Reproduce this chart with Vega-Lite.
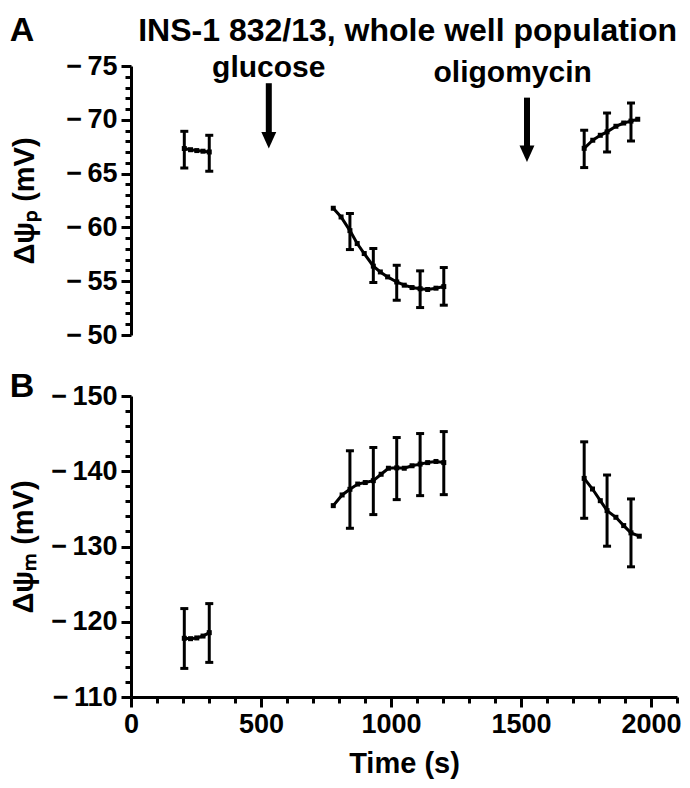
{
  "$schema": "https://vega.github.io/schema/vega-lite/v6.json",
  "background": "white",
  "padding": {"left": 9, "top": 14, "right": 8, "bottom": 4},
  "config": {
    "font": "Liberation Sans",
    "view": {"stroke": null},
    "axis": {
      "labelFont": "Liberation Sans", "labelFontWeight": "bold", "labelFontSize": 27, "labelColor": "black", "labelOverlap": false,
      "titleFont": "Liberation Sans", "titleFontWeight": "bold", "titleFontSize": 29, "titleColor": "black",
      "domainColor": "black", "domainWidth": 3, "tickColor": "black", "tickWidth": 3, "grid": false
    },
    "title": {"font": "Liberation Sans", "fontWeight": "bold", "color": "black"}
  },
  "title": {"text": "A", "anchor": "start", "frame": "bounds", "fontSize": 34, "dy": 37},
  "datasets": {
    "lines": [
      {"p": "A", "s": 1, "t": 205, "v": -67.33}, {"p": "A", "s": 1, "t": 229, "v": -67.22}, {"p": "A", "s": 1, "t": 253, "v": -67.14}, {"p": "A", "s": 1, "t": 277, "v": -67.08}, {"p": "A", "s": 1, "t": 301, "v": -67.01},
      {"p": "A", "s": 2, "t": 778, "v": -61.78}, {"p": "A", "s": 2, "t": 808, "v": -60.97}, {"p": "A", "s": 2, "t": 842, "v": -59.7}, {"p": "A", "s": 2, "t": 870, "v": -58.5}, {"p": "A", "s": 2, "t": 897, "v": -57.57}, {"p": "A", "s": 2, "t": 932, "v": -56.4}, {"p": "A", "s": 2, "t": 959, "v": -55.86}, {"p": "A", "s": 2, "t": 987, "v": -55.4}, {"p": "A", "s": 2, "t": 1022, "v": -54.93}, {"p": "A", "s": 2, "t": 1051, "v": -54.63}, {"p": "A", "s": 2, "t": 1081, "v": -54.41}, {"p": "A", "s": 2, "t": 1112, "v": -54.3}, {"p": "A", "s": 2, "t": 1141, "v": -54.23}, {"p": "A", "s": 2, "t": 1173, "v": -54.35}, {"p": "A", "s": 2, "t": 1203, "v": -54.5},
      {"p": "A", "s": 3, "t": 1743, "v": -67.35}, {"p": "A", "s": 3, "t": 1776, "v": -68.1}, {"p": "A", "s": 3, "t": 1805, "v": -68.56}, {"p": "A", "s": 3, "t": 1831, "v": -68.88}, {"p": "A", "s": 3, "t": 1865, "v": -69.4}, {"p": "A", "s": 3, "t": 1895, "v": -69.7}, {"p": "A", "s": 3, "t": 1923, "v": -69.88}, {"p": "A", "s": 3, "t": 1949, "v": -70.05},
      {"p": "B", "s": 1, "t": 205, "v": -117.8}, {"p": "B", "s": 1, "t": 229, "v": -117.75}, {"p": "B", "s": 1, "t": 253, "v": -117.85}, {"p": "B", "s": 1, "t": 277, "v": -118.1}, {"p": "B", "s": 1, "t": 301, "v": -118.55},
      {"p": "B", "s": 2, "t": 778, "v": -135.43}, {"p": "B", "s": 2, "t": 812, "v": -136.85}, {"p": "B", "s": 2, "t": 842, "v": -137.6}, {"p": "B", "s": 2, "t": 872, "v": -138.3}, {"p": "B", "s": 2, "t": 901, "v": -138.5}, {"p": "B", "s": 2, "t": 932, "v": -138.75}, {"p": "B", "s": 2, "t": 962, "v": -139.6}, {"p": "B", "s": 2, "t": 990, "v": -140.4}, {"p": "B", "s": 2, "t": 1022, "v": -140.45}, {"p": "B", "s": 2, "t": 1051, "v": -140.4}, {"p": "B", "s": 2, "t": 1081, "v": -140.73}, {"p": "B", "s": 2, "t": 1112, "v": -140.95}, {"p": "B", "s": 2, "t": 1141, "v": -141.15}, {"p": "B", "s": 2, "t": 1173, "v": -141.3}, {"p": "B", "s": 2, "t": 1203, "v": -141.15},
      {"p": "B", "s": 3, "t": 1743, "v": -139.05}, {"p": "B", "s": 3, "t": 1775, "v": -137.64}, {"p": "B", "s": 3, "t": 1805, "v": -136.09}, {"p": "B", "s": 3, "t": 1831, "v": -134.77}, {"p": "B", "s": 3, "t": 1865, "v": -133.88}, {"p": "B", "s": 3, "t": 1895, "v": -132.78}, {"p": "B", "s": 3, "t": 1923, "v": -131.81}, {"p": "B", "s": 3, "t": 1955, "v": -131.37}
    ],
    "errs": [
      {"p": "A", "t": 205, "lo": -68.93, "hi": -65.52}, {"p": "A", "t": 301, "lo": -68.56, "hi": -65.22},
      {"p": "A", "t": 842, "lo": -61.29, "hi": -57.94}, {"p": "A", "t": 932, "lo": -58.04, "hi": -54.88}, {"p": "A", "t": 1022, "lo": -56.48, "hi": -53.23}, {"p": "A", "t": 1112, "lo": -55.96, "hi": -52.55}, {"p": "A", "t": 1203, "lo": -56.27, "hi": -52.77},
      {"p": "A", "t": 1743, "lo": -69.03, "hi": -65.56}, {"p": "A", "t": 1831, "lo": -70.63, "hi": -67.01}, {"p": "A", "t": 1923, "lo": -71.56, "hi": -68.03},
      {"p": "B", "t": 205, "lo": -121.75, "hi": -113.8}, {"p": "B", "t": 301, "lo": -122.41, "hi": -114.6},
      {"p": "B", "t": 842, "lo": -142.72, "hi": -132.42}, {"p": "B", "t": 932, "lo": -143.16, "hi": -134.24}, {"p": "B", "t": 1022, "lo": -144.48, "hi": -136.23}, {"p": "B", "t": 1112, "lo": -145.01, "hi": -136.76}, {"p": "B", "t": 1203, "lo": -145.27, "hi": -136.89},
      {"p": "B", "t": 1743, "lo": -143.91, "hi": -133.75}, {"p": "B", "t": 1831, "lo": -139.5, "hi": -130.04}, {"p": "B", "t": 1923, "lo": -136.32, "hi": -127.3}
    ],
    "arrows": [
      {"label": "glucose", "t": 530, "lt": 530, "top": -73.4, "base": -68.4, "tip": -67.33, "ly": -74.0},
      {"label": "oligomycin", "t": 1523, "lt": 1468, "top": -72.06, "base": -67.2, "tip": -66.08, "ly": -73.5}
    ]
  },
  "spacing": 22,
  "vconcat": [
    {
      "width": 546, "height": 269,
      "title": {"text": "INS-1 832/13, whole well population", "anchor": "end", "frame": "group", "fontSize": 32, "offset": 4},
      "resolve": {"axis": {"x": "independent", "y": "independent"}},
      "layer": [
        {
          "data": {"name": "lines"},
          "transform": [{"filter": "datum.p === 'A'"}],
          "mark": {"type": "line", "color": "black", "strokeWidth": 3, "point": {"shape": "square", "size": 25, "filled": true, "color": "black"}},
          "encoding": {
            "x": {"field": "t", "type": "quantitative", "scale": {"domain": [0, 2100], "nice": false}, "axis": null},
            "y": {"field": "v", "type": "quantitative", "scale": {"domain": [-75, -50], "nice": false, "zero": false, "reverse": true},
              "axis": {"orient": "left", "title": "Δψₚ (mV)", "values": [-75, -70, -65, -60, -55, -50],
                "labelExpr": "'−\u2009' + abs(datum.value)",
                "tickSize": 10, "labelPadding": 4, "minExtent": 80, "titlePadding": 12}},
            "detail": {"field": "s"}
          }
        },
        {
          "data": {"name": "errs"},
          "transform": [{"filter": "datum.p === 'A'"}],
          "mark": {"type": "rule", "color": "black", "strokeWidth": 3},
          "encoding": {
            "x": {"field": "t", "type": "quantitative", "axis": null},
            "y": {"field": "lo", "type": "quantitative",
              "axis": {"orient": "left", "title": null, "labels": false, "domain": false, "tickSize": 6,
                "values": [-74,-73,-72,-71,-69,-68,-67,-66,-64,-63,-62,-61,-59,-58,-57,-56,-54,-53,-52,-51]}},
            "y2": {"field": "hi"}
          }
        },
        {
          "data": {"name": "errs"},
          "transform": [{"filter": "datum.p === 'A'"}],
          "mark": {"type": "tick", "orient": "horizontal", "color": "black", "size": 8, "thickness": 3, "opacity": 1},
          "encoding": {
            "x": {"field": "t", "type": "quantitative", "axis": null},
            "y": {"field": "lo", "type": "quantitative", "axis": null}
          }
        },
        {
          "data": {"name": "errs"},
          "transform": [{"filter": "datum.p === 'A'"}],
          "mark": {"type": "tick", "orient": "horizontal", "color": "black", "size": 8, "thickness": 3, "opacity": 1},
          "encoding": {
            "x": {"field": "t", "type": "quantitative", "axis": null},
            "y": {"field": "hi", "type": "quantitative", "axis": null}
          }
        },
        {
          "data": {"name": "arrows"},
          "mark": {"type": "rule", "color": "black", "strokeWidth": 6},
          "encoding": {
            "x": {"field": "t", "type": "quantitative", "axis": null},
            "y": {"field": "top", "type": "quantitative", "axis": null},
            "y2": {"field": "base"}
          }
        },
        {
          "data": {"name": "arrows"},
          "mark": {"type": "point", "shape": "M-0.45,-1L0.45,-1L0,0Z", "size": 1100, "filled": true, "color": "black", "opacity": 1},
          "encoding": {
            "x": {"field": "t", "type": "quantitative", "axis": null},
            "y": {"field": "tip", "type": "quantitative", "axis": null}
          }
        },
        {
          "data": {"name": "arrows"},
          "mark": {"type": "text", "color": "black", "font": "Liberation Sans", "fontWeight": "bold", "fontSize": 30, "baseline": "alphabetic", "align": "center"},
          "encoding": {
            "x": {"field": "lt", "type": "quantitative", "axis": null},
            "y": {"field": "ly", "type": "quantitative", "axis": null},
            "text": {"field": "label"}
          }
        }
      ]
    },
    {
      "width": 546, "height": 301,
      "title": {"text": "B", "anchor": "start", "frame": "bounds", "fontSize": 34, "offset": -10, "dy": 12},
      "resolve": {"axis": {"x": "independent", "y": "independent"}},
      "layer": [
        {
          "data": {"name": "lines"},
          "transform": [{"filter": "datum.p === 'B'"}],
          "mark": {"type": "line", "color": "black", "strokeWidth": 3, "point": {"shape": "square", "size": 25, "filled": true, "color": "black"}},
          "encoding": {
            "x": {"field": "t", "type": "quantitative", "scale": {"domain": [0, 2100], "nice": false},
              "axis": {"orient": "bottom", "title": "Time (s)", "values": [0, 500, 1000, 1500, 2000],
                "labelExpr": "'' + datum.value", "tickSize": 10,
                "labelPadding": 4, "titlePadding": 12, "labelFlush": false}},
            "y": {"field": "v", "type": "quantitative", "scale": {"domain": [-150, -110], "nice": false, "zero": false, "reverse": true},
              "axis": {"orient": "left", "title": "Δψₘ (mV)", "values": [-150, -140, -130, -120, -110],
                "labelExpr": "'−\u2009' + abs(datum.value)",
                "tickSize": 10, "labelPadding": 4, "minExtent": 80, "titlePadding": 12}},
            "detail": {"field": "s"}
          }
        },
        {
          "data": {"name": "errs"},
          "transform": [{"filter": "datum.p === 'B'"}],
          "mark": {"type": "rule", "color": "black", "strokeWidth": 3},
          "encoding": {
            "x": {"field": "t", "type": "quantitative",
              "axis": {"orient": "bottom", "title": null, "labels": false, "domain": false, "tickSize": 6,
                "values": [100,200,300,400,600,700,800,900,1100,1200,1300,1400,1600,1700,1800,1900,2100]}},
            "y": {"field": "lo", "type": "quantitative",
              "axis": {"orient": "left", "title": null, "labels": false, "domain": false, "tickSize": 6,
                "values": [-148,-146,-144,-142,-138,-136,-134,-132,-128,-126,-124,-122,-118,-116,-114,-112]}},
            "y2": {"field": "hi"}
          }
        },
        {
          "data": {"name": "errs"},
          "transform": [{"filter": "datum.p === 'B'"}],
          "mark": {"type": "tick", "orient": "horizontal", "color": "black", "size": 8, "thickness": 3, "opacity": 1},
          "encoding": {
            "x": {"field": "t", "type": "quantitative", "axis": null},
            "y": {"field": "lo", "type": "quantitative", "axis": null}
          }
        },
        {
          "data": {"name": "errs"},
          "transform": [{"filter": "datum.p === 'B'"}],
          "mark": {"type": "tick", "orient": "horizontal", "color": "black", "size": 8, "thickness": 3, "opacity": 1},
          "encoding": {
            "x": {"field": "t", "type": "quantitative", "axis": null},
            "y": {"field": "hi", "type": "quantitative", "axis": null}
          }
        }
      ]
    }
  ]
}
